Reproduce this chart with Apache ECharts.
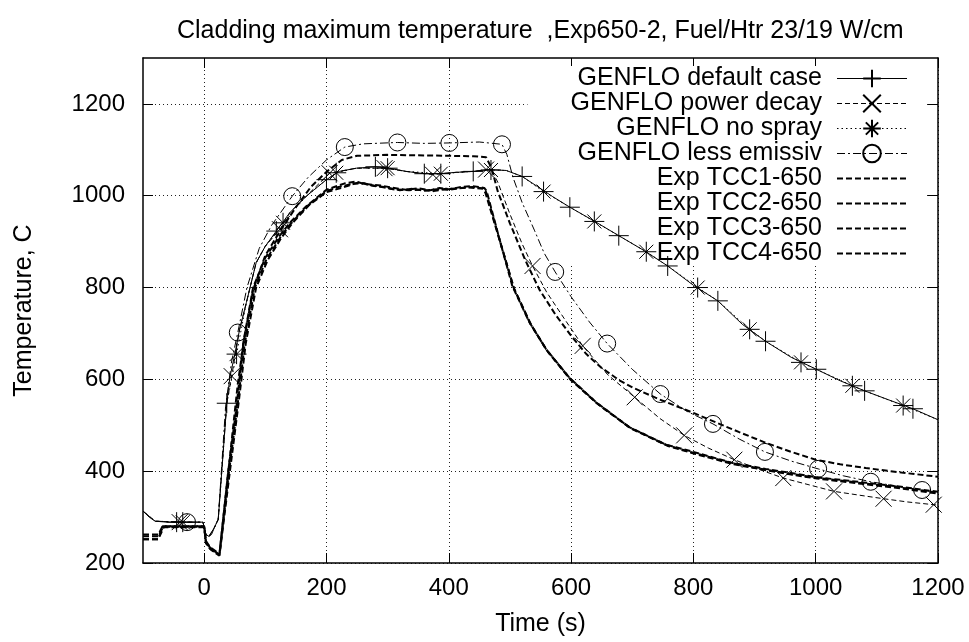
<!DOCTYPE html>
<html>
<head>
<meta charset="utf-8">
<script src="https://cdn.jsdelivr.net/npm/echarts@6.0.0/dist/echarts.min.js"></script>
<style>
  html, body { margin: 0; padding: 0; background: #fff; }
  #curve { width: 969px; height: 642px; }
</style>
</head>
<body>
<div id="curve"></div>
<script>
// tick values
var xTicks = [0, 200, 400, 600, 800, 1000, 1200];
var yTicks = [200, 400, 600, 800, 1000, 1200];

// GENFLO default case (solid, +)
var defaultTime = [-100, -90, -80, -60, -45, -20, -2, 3, 8, 12, 17, 23, 37, 42, 50, 58, 69, 85, 100, 118, 140, 167, 200, 221, 249, 280, 303, 330, 360, 385, 412, 440, 466, 494, 520, 545, 570, 598, 640, 678, 720, 758, 800, 840, 880, 918, 960, 1001, 1040, 1080, 1120, 1159, 1200];
var defaultTemp = [313, 300, 291, 289, 289, 289, 289, 262, 258, 262, 278, 295, 548, 604, 654, 709, 767, 854, 890, 923, 963, 999, 1035, 1053, 1060, 1063, 1060, 1053, 1048, 1048, 1051, 1053, 1057, 1055, 1042, 1020, 998, 975, 943, 913, 880, 847, 805, 771, 720, 683, 648, 622, 597, 575, 555, 536, 512];
var defaultMarks = [-45, 37, 118, 200, 280, 360, 440, 520, 598, 678, 758, 840, 918, 1001, 1080, 1159];

// GENFLO power decay (dashed, x)
var decayTime = [-100, -80, -40, -2, 3, 8, 17, 23, 37, 45, 58, 69, 85, 100, 124, 140, 167, 205, 249, 295, 330, 374, 412, 440, 461, 470, 480, 500, 520, 537, 560, 590, 619, 660, 704, 745, 785, 825, 867, 905, 947, 990, 1030, 1070, 1111, 1150, 1193, 1200];
var decayTemp = [313, 291, 289, 289, 262, 258, 278, 295, 548, 607, 709, 767, 854, 890, 927, 963, 999, 1049, 1060, 1060, 1053, 1046, 1051, 1053, 1057, 1055, 1030, 960, 895, 847, 790, 730, 673, 610, 561, 515, 478, 450, 425, 405, 385, 370, 356, 348, 340, 333, 327, 326];
var decayMarks = [-40, 45, 124, 205, 295, 374, 461, 537, 619, 704, 785, 867, 947, 1030, 1111, 1193];

// GENFLO no spray (dotted, *)
var noSprayTime = [-100, -80, -35, -2, 3, 8, 17, 23, 37, 53, 69, 85, 100, 129, 167, 200, 216, 249, 300, 330, 387, 440, 469, 494, 520, 555, 598, 638, 678, 723, 758, 807, 840, 892, 918, 976, 1001, 1060, 1080, 1143, 1200];
var noSprayTemp = [313, 291, 289, 289, 262, 258, 278, 295, 548, 655, 767, 854, 890, 941, 999, 1035, 1050, 1060, 1060, 1053, 1048, 1053, 1056, 1055, 1042, 1009, 975, 944, 913, 878, 847, 800, 771, 709, 683, 637, 622, 586, 575, 543, 512];
var noSprayMarks = [-35, 53, 129, 216, 300, 387, 469, 555, 638, 723, 807, 892, 976, 1060, 1143];

// GENFLO less emissiv (dash-dot, o)
var emissTime = [-100, -80, -28, -2, 3, 8, 17, 23, 35, 45, 55, 70, 90, 110, 144, 170, 200, 230, 260, 316, 360, 401, 450, 487, 495, 505, 520, 540, 556, 574, 600, 630, 659, 700, 746, 790, 832, 875, 917, 960, 1004, 1045, 1090, 1130, 1174, 1200];
var emissTemp = [313, 291, 289, 289, 262, 258, 278, 295, 540, 640, 702, 800, 885, 935, 999, 1040, 1078, 1106, 1113, 1116, 1114, 1115, 1117, 1112, 1090, 1040, 985, 925, 875, 834, 780, 725, 678, 622, 568, 530, 503, 470, 442, 422, 405, 390, 377, 368, 359, 353];
var emissMarks = [-28, 55, 144, 230, 316, 401, 487, 574, 659, 746, 832, 917, 1004, 1090, 1174];

// Experiment thermocouples
var tcc1Time = [-100, -75, -68, 0, 3, 10, 25, 40, 55, 65, 80, 100, 125, 150, 175, 200, 225, 250, 300, 350, 400, 440, 461, 470, 480, 500, 525, 548, 575, 600, 625, 650, 679, 701, 745, 800, 832, 875, 918, 960, 1000, 1040, 1082, 1140, 1200];
var tcc1Temp = [262, 262, 280, 280, 248, 234, 220, 405, 590, 685, 795, 870, 925, 975, 1020, 1052, 1078, 1087, 1089, 1088, 1087, 1086, 1084, 1060, 1010, 940, 860, 796, 740, 695, 655, 625, 598, 582, 556, 527, 509, 485, 462, 442, 425, 415, 407, 397, 388];

var tcc2Time = [-100, -75, -68, 0, 3, 10, 25, 39, 53, 64, 80, 100, 123, 140, 167, 200, 215, 230, 249, 260, 276, 290, 305, 330, 350, 370, 385, 400, 420, 439, 458, 462, 483, 504, 532, 559, 597, 641, 695, 755, 800, 864, 918, 960, 1000, 1082, 1140, 1200];
var tcc2Temp = [252, 252, 280, 280, 246, 233, 218, 396, 542, 680, 800, 865, 912, 941, 977, 1013, 1020, 1027, 1031, 1026, 1024, 1022, 1018, 1013, 1016, 1012, 1017, 1014, 1019, 1021, 1017, 1010, 905, 803, 724, 666, 604, 550, 496, 458, 442, 418, 405, 396, 387, 375, 366, 355];

var tcc3Time = [-100, -75, -67, 0, 3, 10, 25, 40, 55, 66, 83, 102, 125, 142, 170, 200, 220, 240, 255, 270, 285, 300, 320, 340, 360, 380, 400, 420, 440, 457, 461, 484, 506, 533, 560, 598, 642, 696, 756, 800, 865, 918, 960, 1000, 1082, 1140, 1200];
var tcc3Temp = [258, 258, 279, 279, 244, 231, 217, 392, 548, 675, 800, 862, 910, 940, 979, 1010, 1019, 1025, 1029, 1023, 1021, 1016, 1012, 1015, 1011, 1014, 1013, 1017, 1019, 1016, 1008, 900, 800, 722, 664, 602, 548, 495, 457, 440, 417, 403, 394, 386, 373, 364, 353];

var tcc4Time = [-100, -75, -66, 0, 3, 10, 25, 41, 56, 68, 85, 104, 126, 144, 172, 200, 222, 245, 262, 278, 295, 312, 335, 355, 375, 395, 415, 435, 456, 460, 485, 507, 535, 562, 600, 645, 698, 758, 802, 866, 920, 962, 1002, 1085, 1142, 1200];
var tcc4Temp = [252, 252, 278, 278, 243, 230, 216, 388, 545, 678, 800, 860, 908, 940, 980, 1008, 1016, 1026, 1027, 1021, 1019, 1014, 1012, 1013, 1010, 1015, 1016, 1018, 1015, 1006, 895, 797, 718, 660, 598, 545, 493, 455, 438, 415, 402, 392, 384, 371, 362, 351];

var FONT = '"Liberation Sans", Arial, Helvetica, sans-serif';

// 符号（只画线条）
var plusSym = 'path://M0,5L10,5M5,0L5,10';
var crossSym = 'path://M0,0L10,10M10,0L0,10';
var starSym = 'path://M0,5L10,5M5,0L5,10M1.5,1.5L8.5,8.5M8.5,1.5L1.5,8.5';
var circSym = 'circle';

// 只在标记时间点上画符号
function buildData(ts, vs, marks) {
    return ts.map(function (t, i) {
        if (marks && marks.indexOf(t) >= 0) return [t, vs[i]];
        return { value: [t, vs[i]], symbol: 'none' };
    });
}

function genflo(name, ts, vs, marks, sym, size, dash) {
    return {
        name: name,
        type: 'line',
        data: buildData(ts, vs, marks),
        symbol: sym,
        symbolSize: size,
        showSymbol: true,
        itemStyle: { color: 'none', borderColor: '#000', borderWidth: 1 },
        lineStyle: { color: '#000', width: 1, type: dash },
        emphasis: { disabled: true },
        z: 3
    };
}

function exper(name, ts, vs) {
    return {
        name: name,
        type: 'line',
        data: buildData(ts, vs, null),
        symbol: 'none',
        itemStyle: { color: 'none', borderWidth: 0 },
        lineStyle: { color: '#000', width: 2, type: [6, 3] },
        emphasis: { disabled: true },
        z: 2
    };
}

function plainNum(v) { return String(v); }

var myChart = echarts.init(document.getElementById('curve'));

var axisLine = { show: true, onZero: false, lineStyle: { color: '#000', width: 1.5 } };
var gridLine = { show: true, lineStyle: { color: '#222', width: 1, type: [1, 3] } };

var option = {
    animation: false,
    backgroundColor: '#fff',
    title: {
        text: 'Cladding maximum temperature  ,Exp650-2, Fuel/Htr 23/19 W/cm',
        left: 177,
        top: 19,
        padding: 0,
        textStyle: { fontFamily: FONT, fontSize: 25, fontWeight: 'normal', color: '#000' }
    },
    grid: { left: 143, right: 31, top: 58, bottom: 79, containLabel: false },
    legend: {
        orient: 'vertical',
        align: 'right',
        right: 44,
        top: 66,
        padding: [0, 17, 0, 43],
        itemGap: 0,
        itemWidth: 70,
        itemHeight: 22,
        backgroundColor: '#fff',
        z: 1,
        selectedMode: false,
        lineStyle: { width: 'inherit' },
        textStyle: { fontFamily: FONT, fontSize: 25, color: '#000', lineHeight: 25, padding: [0, 10, 0, 0] },
        data: ['GENFLO default case', 'GENFLO power decay', 'GENFLO no spray', 'GENFLO less emissiv',
               'Exp TCC1-650', 'Exp TCC2-650', 'Exp TCC3-650', 'Exp TCC4-650']
    },
    xAxis: [{
        type: 'value',
        min: -100,
        max: 1200,
        name: 'Time (s)',
        nameLocation: 'middle',
        nameGap: 49,
        nameTextStyle: { fontFamily: FONT, fontSize: 25, color: '#000' },
        axisLine: axisLine,
        axisTick: { show: true, inside: true, length: 10, lineStyle: { color: '#000' }, customValues: xTicks },
        axisLabel: { fontFamily: FONT, fontSize: 24, color: '#000', margin: 13, customValues: xTicks, formatter: plainNum },
        splitLine: gridLine
    }, {
        type: 'value',
        position: 'top',
        min: -100,
        max: 1200,
        axisLine: axisLine,
        axisTick: { show: true, inside: true, length: 10, lineStyle: { color: '#000' }, customValues: xTicks },
        axisLabel: { show: false },
        splitLine: { show: false }
    }],
    yAxis: [{
        type: 'value',
        min: 200,
        max: 1300,
        name: 'Temperature, C',
        nameLocation: 'middle',
        nameGap: 106,
        nameTextStyle: { fontFamily: FONT, fontSize: 25, color: '#000' },
        axisLine: axisLine,
        axisTick: { show: true, inside: true, length: 10, lineStyle: { color: '#000' }, customValues: yTicks },
        axisLabel: { fontFamily: FONT, fontSize: 24, color: '#000', margin: 18, customValues: yTicks, formatter: plainNum },
        splitLine: gridLine
    }, {
        type: 'value',
        position: 'right',
        min: 200,
        max: 1300,
        axisLine: axisLine,
        axisTick: { show: true, inside: true, length: 10, lineStyle: { color: '#000' }, customValues: yTicks },
        axisLabel: { show: false },
        splitLine: { show: false }
    }],
    series: [
        genflo('GENFLO default case', defaultTime, defaultTemp, defaultMarks, plusSym, 20, 'solid'),
        genflo('GENFLO power decay', decayTime, decayTemp, decayMarks, crossSym, 16, [5, 3]),
        genflo('GENFLO no spray', noSprayTime, noSprayTemp, noSprayMarks, starSym, 20, [1.5, 3]),
        genflo('GENFLO less emissiv', emissTime, emissTemp, emissMarks, circSym, 17, [8, 3, 2, 3]),
        exper('Exp TCC1-650', tcc1Time, tcc1Temp),
        exper('Exp TCC2-650', tcc2Time, tcc2Temp),
        exper('Exp TCC3-650', tcc3Time, tcc3Temp),
        exper('Exp TCC4-650', tcc4Time, tcc4Temp)
    ]
};
myChart.setOption(option);
</script>
</body>
</html>
